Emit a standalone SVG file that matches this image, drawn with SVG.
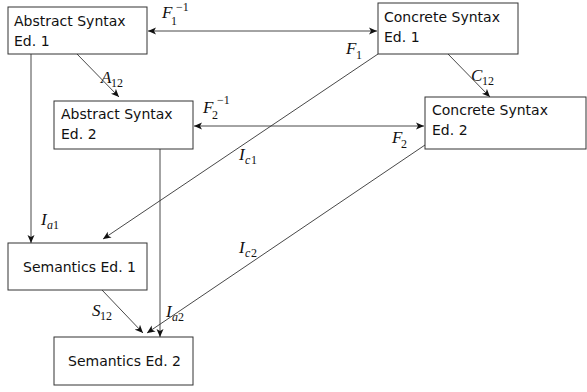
<svg xmlns="http://www.w3.org/2000/svg" width="587" height="392" viewBox="0 0 587 392">
<style>
.box{fill:#fff;stroke:#333;stroke-width:1}
.t{font-family:"DejaVu Sans",sans-serif;font-size:14px;fill:#111}
.m{font-family:"Liberation Serif","DejaVu Serif",serif;font-style:italic;font-size:17px;fill:#111}
.s{font-family:"Liberation Serif","DejaVu Serif",serif;font-size:12px;fill:#111}
.si{font-family:"Liberation Serif","DejaVu Serif",serif;font-style:italic;font-size:12px;fill:#111}
.c{fill:none;stroke:#333;stroke-width:0.9}
</style>
<defs>
<marker id="ah" markerWidth="10" markerHeight="8" refX="8" refY="4" orient="auto-start-reverse" markerUnits="userSpaceOnUse">
<path d="M0,0.5 L8,4 L0,7.5 L2,4 z" fill="#111"/>
</marker>
</defs>
<g id="connectors">
<line class="c" x1="148" y1="31" x2="377" y2="31" marker-start="url(#ah)" marker-end="url(#ah)"/>
<line class="c" x1="194" y1="126" x2="424" y2="126" marker-start="url(#ah)" marker-end="url(#ah)"/>
<line class="c" x1="77" y1="54" x2="119" y2="97" marker-end="url(#ah)"/>
<line class="c" x1="448" y1="54" x2="490" y2="97" marker-end="url(#ah)"/>
<line class="c" x1="31" y1="54" x2="31" y2="243" marker-end="url(#ah)"/>
<line class="c" x1="160" y1="149" x2="160" y2="337" marker-end="url(#ah)"/>
<line class="c" x1="378" y1="54" x2="103" y2="239" marker-end="url(#ah)"/>
<line class="c" x1="425" y1="145" x2="147" y2="333" marker-end="url(#ah)"/>
<line class="c" x1="102" y1="290" x2="143" y2="333" marker-end="url(#ah)"/>
<text class="m" x="162" y="18">F</text><text class="s" x="171" y="25">1</text><text class="s" x="176" y="11">−1</text>
<text class="m" x="346" y="54">F</text><text class="s" x="356" y="59">1</text>
<text class="m" x="203" y="113">F</text><text class="s" x="212" y="119">2</text><text class="s" x="217" y="104">−1</text>
<text class="m" x="392" y="143">F</text><text class="s" x="401" y="148">2</text>
<text class="m" x="101" y="83">A</text><text class="s" x="111" y="87">12</text>
<text class="m" x="471" y="81">C</text><text class="s" x="482" y="85">12</text>
<text class="m" x="239" y="160">I</text><text class="si" x="245" y="164">c</text><text class="s" x="251" y="164">1</text>
<text class="m" x="41" y="225">I</text><text class="si" x="47" y="229">a</text><text class="s" x="53" y="229">1</text>
<text class="m" x="239" y="253">I</text><text class="si" x="245" y="257">c</text><text class="s" x="251" y="257">2</text>
<text class="m" x="92" y="316">S</text><text class="s" x="100" y="320">12</text>
<text class="m" x="166" y="317">I</text><text class="si" x="172" y="321">a</text><text class="s" x="178" y="321">2</text>
</g>
<g id="abs1"><rect class="box" x="8" y="7" width="139" height="47"/><text class="t" x="14" y="26">Abstract Syntax</text><text class="t" x="14" y="46">Ed. 1</text></g>
<g id="abs2"><rect class="box" x="54" y="101" width="139" height="48"/><text class="t" x="61" y="119">Abstract Syntax</text><text class="t" x="61" y="139">Ed. 2</text></g>
<g id="con1"><rect class="box" x="378" y="3" width="140" height="51"/><text class="t" x="384" y="22">Concrete Syntax</text><text class="t" x="384" y="42">Ed. 1</text></g>
<g id="con2"><rect class="box" x="425" y="97" width="161" height="52"/><text class="t" x="432" y="115">Concrete Syntax</text><text class="t" x="432" y="135">Ed. 2</text></g>
<g id="sem1"><rect class="box" x="8" y="243" width="139" height="47"/><text class="t" x="23" y="272">Semantics Ed. 1</text></g>
<g id="sem2"><rect class="box" x="54" y="337" width="139" height="48"/><text class="t" x="68" y="366">Semantics Ed. 2</text></g>
</svg>
